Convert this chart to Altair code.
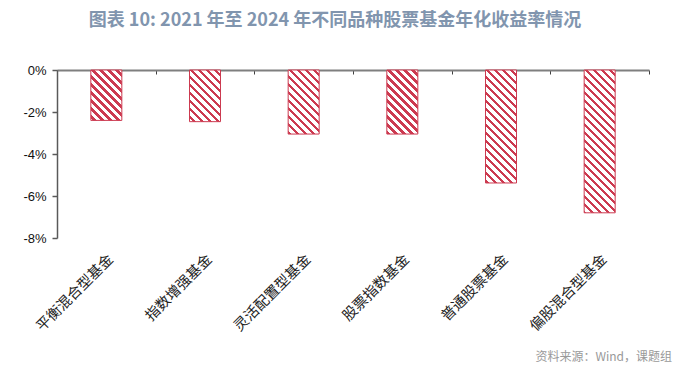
import math
import altair as alt
import pandas as pd

# ---- data ----
categories = ["平衡混合型基金", "指数增强基金", "灵活配置型基金", "股票指数基金", "普通股票基金", "偏股混合型基金"]
returns_pct = [-2.40, -2.46, -3.05, -3.05, -5.38, -6.80]
y_ticks = [-8, -6, -4, -2, 0]
title_text = "图表 10: 2021 年至 2024 年不同品种股票基金年化收益率情况"
source_text = "资料来源：Wind，课题组"

df = pd.DataFrame({"cat": categories, "val": returns_pct})

# ---- style ----
PLOT_W, PLOT_H = 592, 168
BAR_W = 31
RED = "#CC3A50"
WHITE = "#FFFFFF"
PERIOD = 8.0   # horizontal period of hatch, px
LINE = 3.2     # horizontal width of red hatch line, px
Y_MIN, Y_MAX = -8, 0


def hatch_fill(v):
    """Diagonal '\\' hatch as a hard-stop linear gradient in the bar's bbox."""
    W = float(BAR_W)
    H = abs(v) / (Y_MAX - Y_MIN) * PLOT_H
    total = W + H
    c = total / (W * W + H * H)
    stops = [alt.GradientStop(color=WHITE, offset=0)]
    kmin = math.floor(-H / PERIOD) - 1
    kmax = math.ceil(W / PERIOD) + 1
    last = 0.0
    for k in range(kmin, kmax + 1):
        ds = H + k * PERIOD
        de = ds + LINE
        ts = min(max(ds / total, 0.0), 1.0)
        te = min(max(de / total, 0.0), 1.0)
        if te <= 0 or ts >= 1:
            continue
        ts = max(ts, last)
        te = max(te, ts)
        stops += [
            alt.GradientStop(color=WHITE, offset=ts),
            alt.GradientStop(color=RED, offset=ts),
            alt.GradientStop(color=RED, offset=te),
            alt.GradientStop(color=WHITE, offset=te),
        ]
        last = te
    stops.append(alt.GradientStop(color=WHITE, offset=1))
    return alt.LinearGradient(gradient="linear", stops=stops,
                              x1=0, y1=1, x2=c * W, y2=1 - c * H)


x_scale = alt.Scale(domain=categories, paddingInner=0, paddingOuter=0)
y_scale = alt.Scale(domain=[Y_MIN, Y_MAX], nice=False, zero=False)

x_label_axis = alt.Axis(
    title=None, domain=False, ticks=False, labelAngle=-45,
    labelFont="Noto Sans CJK SC", labelFontSize=14.5, labelColor="#222222",
    labelFontWeight="normal", labelPadding=14, labelOverlap=False,
)
y_axis = alt.Axis(
    title=None, values=y_ticks, labelExpr="datum.value + '%'",
    grid=False, domainColor="#595959", domainWidth=1.5,
    tickColor="#595959", tickSize=5, tickWidth=1.5,
    labelFont="Liberation Sans", labelFontSize=13, labelColor="#111111",
    labelPadding=6,
)

X = alt.X("cat:N", sort=categories, scale=x_scale, axis=x_label_axis)
Y = alt.Y("val:Q", scale=y_scale, axis=y_axis)

bars = []
for cat, v in zip(categories, returns_pct):
    bars.append(
        alt.Chart(df)
        .transform_filter(alt.datum.cat == cat)
        .mark_bar(size=BAR_W, fill=hatch_fill(v), stroke=RED, strokeWidth=1)
        .encode(x=X, y=Y)
    )

source = (
    alt.Chart(pd.DataFrame({"t": [source_text]}))
    .mark_text(align="right", baseline="middle", font="Noto Sans CJK SC",
               fontSize=12, color="#999999")
    .encode(text="t:N", x=alt.value(PLOT_W + 23), y=alt.value(PLOT_H + 119))
)

inner = alt.layer(*bars, source)

# zero line with category-boundary ticks (an axis moved up to the 0% level)
tick_axis = alt.Axis(
    title=None, orient="bottom", offset=-PLOT_H, labels=False,
    domainColor="#7F7F7F", domainWidth=2, tickColor="#404040",
    tickSize=4, tickWidth=1, tickBand="extent",
)
zero_layer = (
    alt.Chart(df)
    .mark_point(opacity=0)
    .encode(x=alt.X("cat:N", sort=categories, scale=x_scale, axis=tick_axis),
            y=alt.Y("val:Q", scale=y_scale, axis=y_axis))
)

chart = (
    alt.layer(inner, zero_layer)
    .resolve_axis(x="independent")
    .properties(
        width=PLOT_W, height=PLOT_H,
        autosize=alt.AutoSizeParams(type="none"),
        padding={"left": 49, "top": 62, "right": 36, "bottom": 126},
        title=alt.TitleParams(
            text=title_text, font="Noto Sans CJK SC", fontSize=18,
            fontWeight="bold", color="#8195AE", anchor="middle", offset=34,
            dx=-18,
        ),
        background="white",
    )
    .configure_view(stroke=None)
)

chart.save("out.html", embed_options={"renderer": "svg", "actions": False})
